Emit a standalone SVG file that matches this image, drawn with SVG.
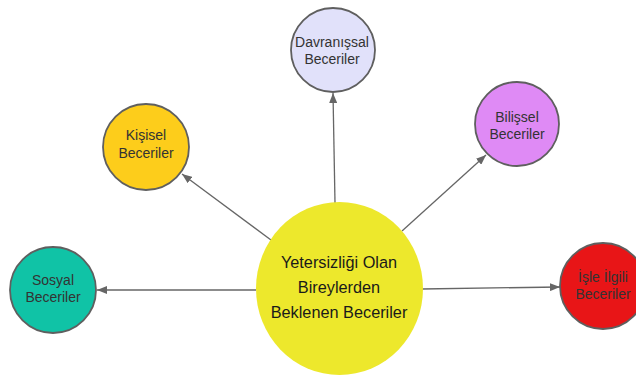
<svg xmlns="http://www.w3.org/2000/svg" width="636" height="376" viewBox="0 0 636 376">
  <defs>
    <marker id="arrow" viewBox="0 0 10 8" refX="10" refY="4" markerWidth="10" markerHeight="8" markerUnits="userSpaceOnUse" orient="auto">
      <path d="M0,0 L10,4 L0,8 Z" fill="#666666"/>
    </marker>
  </defs>
  <style>
    .node { stroke: #5f5f5f; stroke-width: 1.8; }
    .label { font-family: "Liberation Sans", Arial, sans-serif; font-size: 14px; fill: #333333; text-anchor: middle; }
    .main { font-family: "Liberation Sans", Arial, sans-serif; font-size: 16.3px; fill: #1a1a1a; text-anchor: middle; }
    .edge { stroke: #666666; stroke-width: 1.3; fill: none; marker-end: url(#arrow); }
  </style>
  <rect width="636" height="376" fill="#ffffff"/>

  <g id="connectors">
    <line class="edge" x1="335" y1="203" x2="333" y2="93"/>
    <line class="edge" x1="271" y1="240" x2="182" y2="174"/>
    <line class="edge" x1="402" y1="231" x2="486" y2="155"/>
    <line class="edge" x1="256" y1="290" x2="97" y2="290"/>
    <line class="edge" x1="422" y1="289" x2="560" y2="287"/>
  </g>

  <g id="center">
    <ellipse cx="339.5" cy="288.5" rx="83.5" ry="86.5" fill="#ede82c"/>
    <text class="main" x="339" y="268">Yetersizliği Olan</text>
    <text class="main" x="339" y="293">Bireylerden</text>
    <text class="main" x="339" y="318">Beklenen Beceriler</text>
  </g>

  <g id="davranissal">
    <circle class="node" cx="333" cy="50" r="42" fill="#e1e1fa"/>
    <text class="label" x="332" y="47">Davranışsal</text>
    <text class="label" x="332" y="64">Beceriler</text>
  </g>

  <g id="kisisel">
    <circle class="node" cx="146" cy="147" r="43" fill="#fdcd1b"/>
    <text class="label" x="146" y="140">Kişisel</text>
    <text class="label" x="146" y="158">Beceriler</text>
  </g>

  <g id="bilissel">
    <circle class="node" cx="517" cy="124" r="42" fill="#df8af5"/>
    <text class="label" x="517" y="122">Bilişsel</text>
    <text class="label" x="517" y="139">Beceriler</text>
  </g>

  <g id="sosyal">
    <circle class="node" cx="53" cy="290" r="43" fill="#10c3a6"/>
    <text class="label" x="53" y="285">Sosyal</text>
    <text class="label" x="53" y="302">Beceriler</text>
  </g>

  <g id="isle-ilgili">
    <circle class="node" cx="603" cy="286" r="43" fill="#e81517"/>
    <text class="label" x="603" y="282">İşle İlgili</text>
    <text class="label" x="603" y="299">Beceriler</text>
  </g>
</svg>
